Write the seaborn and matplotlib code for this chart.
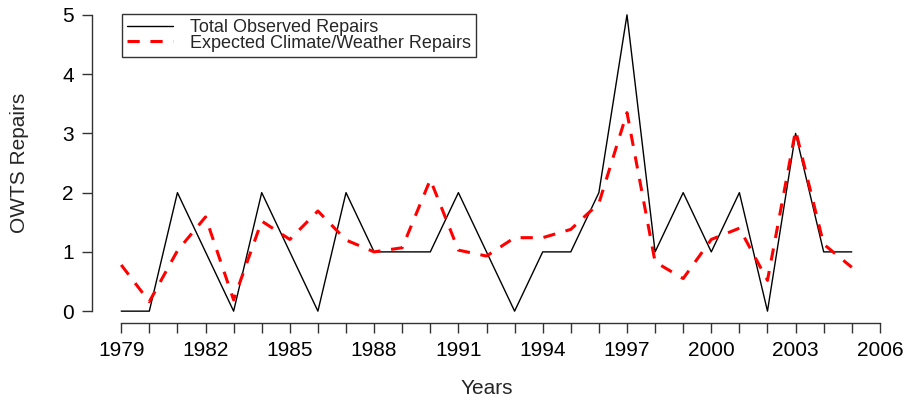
import numpy as np
import pandas as pd
import matplotlib
matplotlib.use("Agg")
import matplotlib.pyplot as plt
import seaborn as sns
from matplotlib.ticker import FixedLocator

years = list(range(1979, 2006))
observed = [0, 0, 2, 1, 0, 2, 1, 0, 2, 1, 1, 1, 2, 1, 0, 1, 1, 2, 5, 1, 2, 1, 2, 0, 3, 1, 1]
expected = [0.78, 0.16, 1.02, 1.59, 0.19, 1.52, 1.21, 1.69, 1.2, 1.0, 1.07, 2.22, 1.03, 0.93,
            1.24, 1.24, 1.38, 1.82, 3.35, 0.83, 0.55, 1.21, 1.4, 0.52, 3.05, 1.13, 0.74]
year_ticks = list(range(1979, 2007, 3))
minor_years = list(range(1979, 2007))

df = pd.DataFrame({"Year": years, "Observed": observed, "Expected": expected})

sns.set_style("ticks")
plt.rcParams["font.family"] = ["Liberation Sans", "DejaVu Sans"]

fig = plt.figure(figsize=(9.07, 4.07), dpi=100)
ax = fig.add_axes([92 / 907, 84 / 407, 789 / 907, 320 / 407])

sns.lineplot(data=df, x="Year", y="Observed", ax=ax, color="black", linewidth=1.0,
             label="Total Observed Repairs")
sns.lineplot(data=df, x="Year", y="Expected", ax=ax, color="red", linewidth=2.2,
             label="Expected Climate/Weather Repairs")
ax.lines[1].set_dashes((4, 3.5))

ax.set_xlim(1977.96, 2006.04)
ax.set_ylim(-0.2, 5.2)
ax.set_xticks(year_ticks)
ax.xaxis.set_minor_locator(FixedLocator(minor_years))
ax.set_yticks(range(6))
ax.spines["top"].set_visible(False)
ax.spines["right"].set_visible(False)
ax.spines["left"].set_bounds(0, 5)
ax.spines["bottom"].set_bounds(1979, 2006)
for s in ("left", "bottom"):
    ax.spines[s].set_color("#333333")
    ax.spines[s].set_linewidth(1.0)
ax.tick_params(axis="both", which="both", direction="out", length=7, width=1.0,
               colors="#333333", labelcolor="black", labelsize=15, pad=6)
ax.tick_params(axis="x", which="minor", length=7)

ax.set_xlabel("Years", fontsize=15, labelpad=14)
ax.set_ylabel("OWTS Repairs", fontsize=15, labelpad=24)

leg = ax.legend(loc="upper left", bbox_to_anchor=(30 / 789, 1 - 11 / 320), fontsize=13,
                frameon=True, fancybox=False, edgecolor="black", borderaxespad=0,
                handlelength=2.5, handletextpad=0.95, labelspacing=-0.1,
                borderpad=0.3)
leg.get_frame().set_linewidth(1.0)

fig.savefig("out.png", dpi=100)
